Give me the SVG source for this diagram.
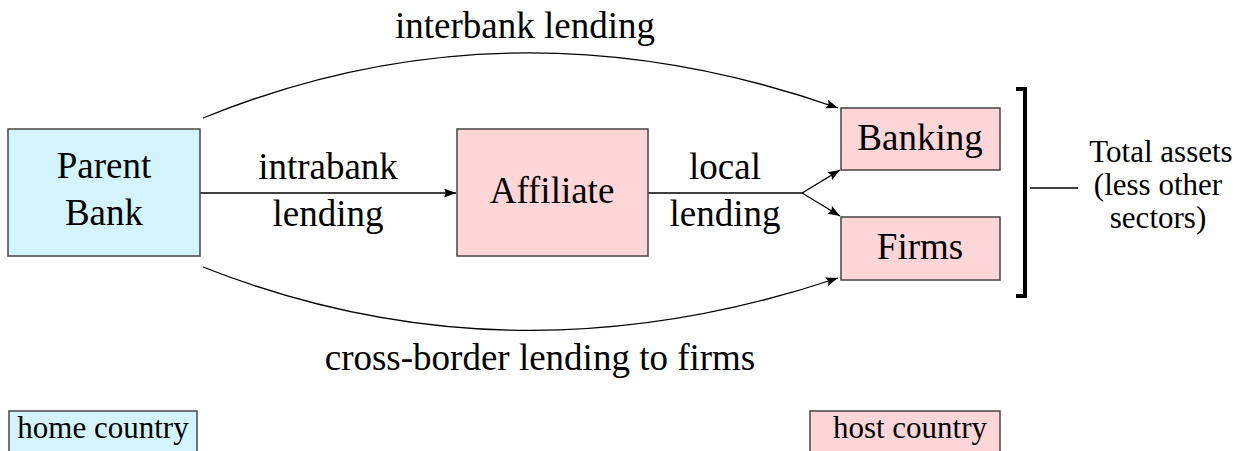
<svg xmlns="http://www.w3.org/2000/svg" width="1243" height="451" viewBox="0 0 1243 451" font-family="Liberation Serif, Times New Roman, DejaVu Serif, serif">
<style>
text{font-family:'Liberation Serif','Times New Roman','DejaVu Serif',serif;fill:#000;text-anchor:middle}
.big{font-size:37px}
.mid{font-size:31px}
.home{fill:#d4f4fd;stroke:#444;stroke-width:1.5}
.host{fill:#ffd6d8;stroke:#444;stroke-width:1.5}
.con{fill:none;stroke:#000;stroke-width:1.3}
.br{fill:none;stroke:#000;stroke-width:4}
</style>
<defs>
<marker id="ah" markerUnits="userSpaceOnUse" markerWidth="13" markerHeight="10" refX="12" refY="4.5" orient="auto">
<path d="M0,0 L12,4.5 L0,9 L2,4.5 z" fill="#000"/>
</marker>
</defs>
<g id="connectors">
<path class="con" d="M203,118 Q510,-7 838,108" marker-end="url(#ah)"/>
<path class="con" d="M203,267 Q510,388 838,278" marker-end="url(#ah)"/>
<path class="con" d="M200,193 H456" marker-end="url(#ah)"/>
<path class="con" d="M648,193 H802 L840,170" marker-end="url(#ah)"/>
<path class="con" d="M802,193 L840,216" marker-end="url(#ah)"/>
<path class="con" d="M1030,188 H1078"/>
</g>
<g id="labels">
<text class="big" x="525" y="38">interbank lending</text>
<text class="big" x="328" y="179">intrabank</text>
<text class="big" x="328" y="226">lending</text>
<text class="big" x="725" y="179">local</text>
<text class="big" x="725" y="226">lending</text>
<text class="big" x="540" y="370">cross-border lending to firms</text>
</g>
<g id="parent-bank">
<rect class="home" x="8" y="129" width="192" height="127"/>
<text class="big" x="104" y="178">Parent</text>
<text class="big" x="104" y="225">Bank</text>
</g>
<g id="affiliate">
<rect class="host" x="457" y="129" width="191" height="127"/>
<text class="big" x="552" y="203">Affiliate</text>
</g>
<g id="banking">
<rect class="host" x="841" y="108" width="159" height="62"/>
<text class="big" x="920" y="150">Banking</text>
</g>
<g id="firms">
<rect class="host" x="841" y="217" width="159" height="63"/>
<text class="big" x="920" y="259">Firms</text>
</g>
<g id="total-assets">
<path class="br" d="M1016,89 H1025 V296 H1016"/>
<text class="mid" x="1161" y="162">Total assets</text>
<text class="mid" x="1158" y="195">(less other</text>
<text class="mid" x="1158" y="228">sectors)</text>
</g>
<g id="legend-home">
<rect class="home" x="9" y="411" width="188" height="42"/>
<text class="mid" x="103" y="438">home country</text>
</g>
<g id="legend-host">
<rect class="host" x="810" y="411" width="190" height="42"/>
<text class="mid" x="910" y="438">host country</text>
</g>
</svg>
